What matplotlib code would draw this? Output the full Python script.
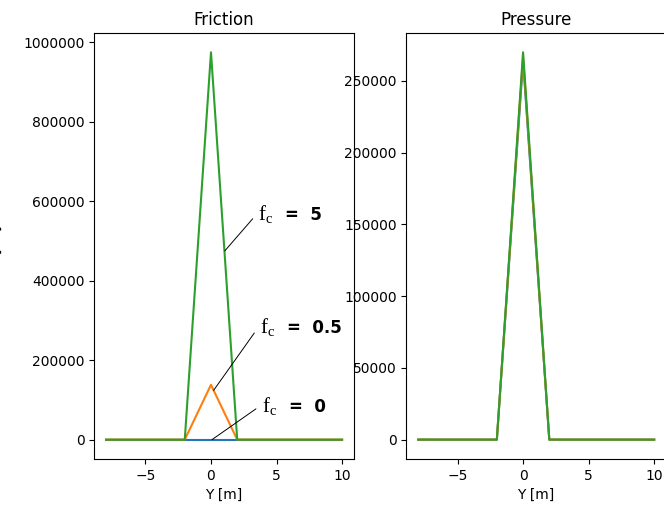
import matplotlib.pyplot as plt

# positions along Y [m]
y_pos = [-8, -6, -4, -2, 0, 2, 4, 6, 8, 10]

# friction for each friction coefficient
fric_fc0 = [0, 0, 0, 0, 0, 0, 0, 0, 0, 0]
fric_fc05 = [0, 0, 0, 0, 138000, 0, 0, 0, 0, 0]
fric_fc5 = [0, 0, 0, 0, 975000, 0, 0, 0, 0, 0]

# pressure for each friction coefficient
pres_fc0 = [0, 0, 0, 0, 264000, 0, 0, 0, 0, 0]
pres_fc05 = [0, 0, 0, 0, 267000, 0, 0, 0, 0, 0]
pres_fc5 = [0, 0, 0, 0, 270000, 0, 0, 0, 0, 0]

fc_labels = ["0", "0.5", "5"]

plt.rcParams['mathtext.fontset'] = 'custom'
plt.rcParams['mathtext.rm'] = 'Liberation Serif'

fig = plt.figure(figsize=(6.64, 5.14), dpi=100)
ax1 = fig.add_axes([0.142, 0.107, 0.391, 0.829])
ax2 = fig.add_axes([0.612, 0.107, 0.391, 0.829])

# friction plot
ax1.plot(y_pos, fric_fc0)
ax1.plot(y_pos, fric_fc05)
ax1.plot(y_pos, fric_fc5)
ax1.ticklabel_format(axis='y', style='plain', useOffset=False)
ax1.set_title("Friction")
ax1.set_xlabel("Y [m]")
ax1.set_ylabel(r"$\tau$ [Pa]", labelpad=14)

# labels pointing at each curve
points = [(0.08, 0), (0.2, 124000), (1.05, 475000)]
text_at = [(3.9, 70500), (3.7, 269000), (3.6, 554000)]
for lab, pt, tx in zip(fc_labels, points, text_at):
    ax1.annotate(r"$\mathrm{f_c}$", xy=pt, xytext=tx,
                 ha='left', va='baseline', fontsize=15,
                 arrowprops=dict(arrowstyle='-', color='black', lw=0.7,
                                 relpos=(0, 0.55), shrinkA=3, shrinkB=0))
    ax1.annotate("=  " + lab, xy=tx, xytext=(19.5, 0),
                 textcoords='offset points', ha='left', va='baseline',
                 fontsize=12, fontweight='bold')

# pressure plot
ax2.plot(y_pos, pres_fc0)
ax2.plot(y_pos, pres_fc05)
ax2.plot(y_pos, pres_fc5)
ax2.set_title("Pressure")
ax2.set_xlabel("Y [m]")

fig.savefig("out.png", dpi=100)
